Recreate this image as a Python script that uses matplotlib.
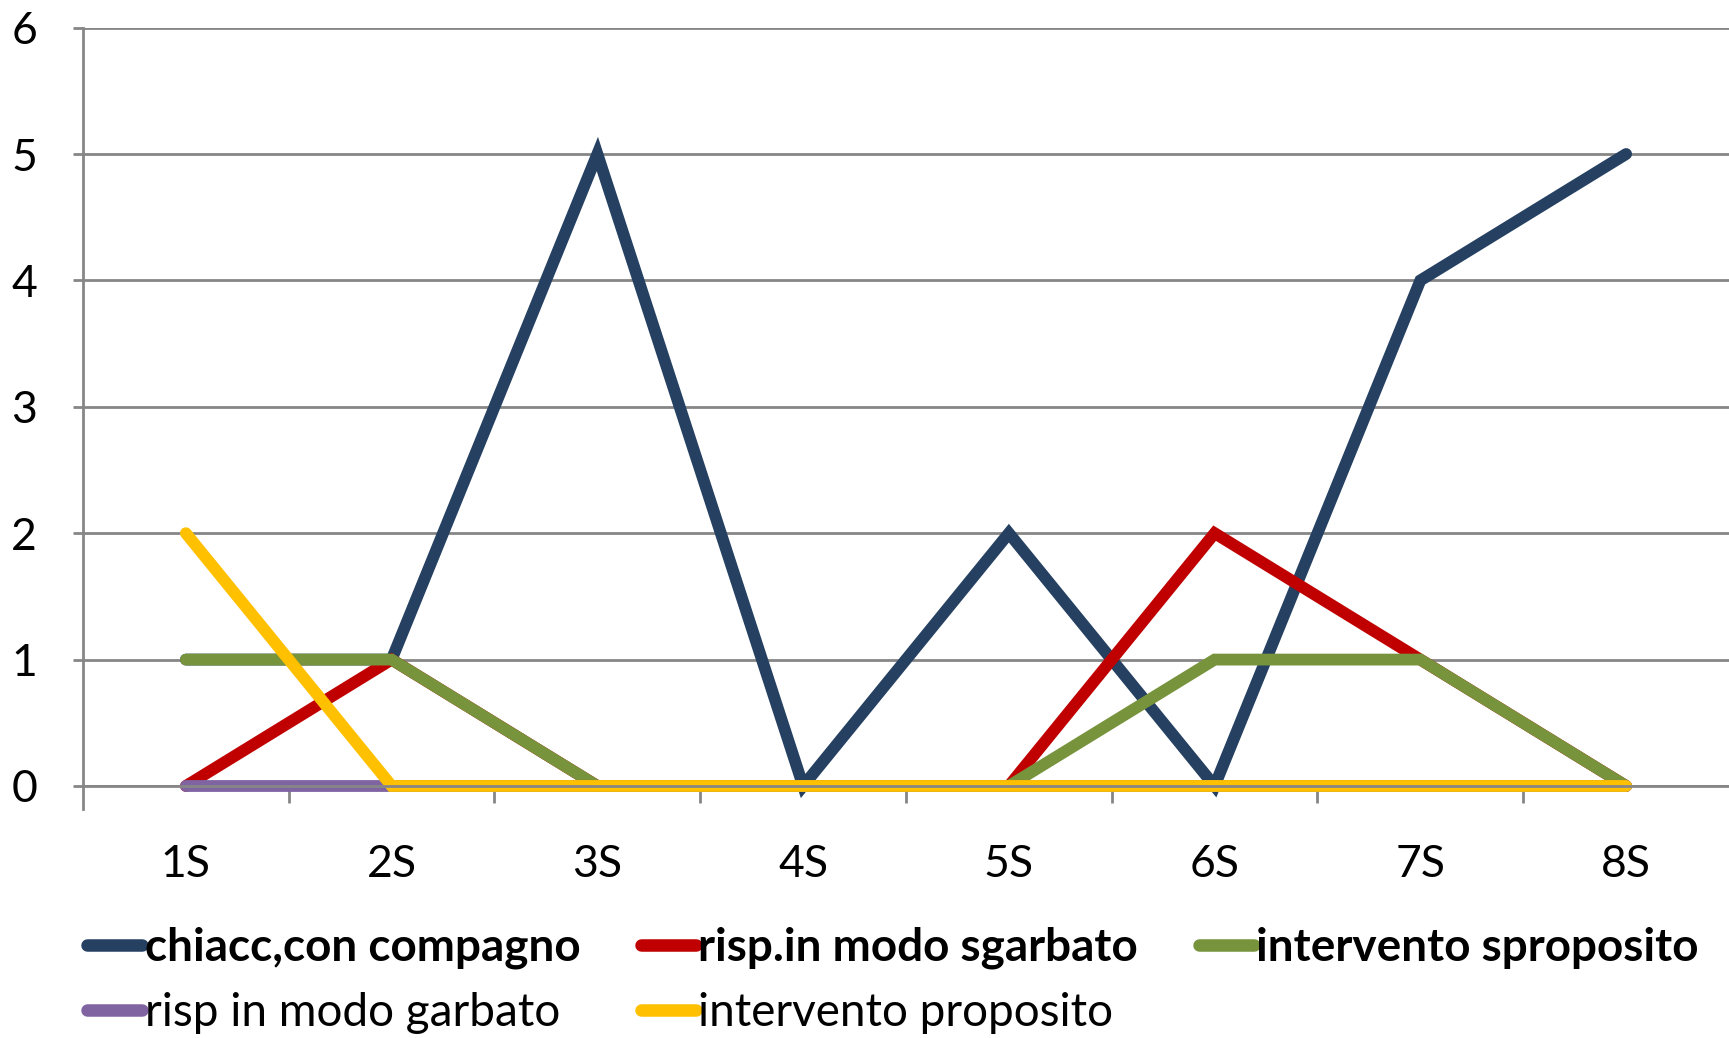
import numpy as np
import matplotlib.pyplot as plt
from matplotlib.lines import Line2D

plt.rcParams['font.family'] = ['Lato', 'DejaVu Sans']

categories = ['1S', '2S', '3S', '4S', '5S', '6S', '7S', '8S']
chiacc = [1, 1, 5, 0, 2, 0, 4, 5]
sgarbato = [0, 1, 0, 0, 0, 2, 1, 0]
sproposito = [1, 1, 0, 0, 0, 1, 1, 0]
garbato = [0, 0, 0, 0, 0, 0, 0, 0]
proposito = [2, 0, 0, 0, 0, 0, 0, 0]

names = ['chiacc,con compagno', 'risp.in modo sgarbato', 'intervento sproposito',
         'risp in modo garbato', 'intervento proposito']
colors = ['#254061', '#C00000', '#77933C', '#8064A2', '#FFC000']
series = [chiacc, sgarbato, sproposito, garbato, proposito]

fig = plt.figure(figsize=(17.29, 10.38), dpi=100)
ax = fig.add_axes([0.048, 0.2428, 0.952, 0.7306])

x = np.arange(1, len(categories) + 1)
for vals, c in zip(series, colors):
    ax.plot(x, vals, color=c, lw=8.5, solid_capstyle='round', solid_joinstyle='miter',
            clip_on=False)

grid = '#868686'
ax.set_xlim(0.5, len(categories) + 0.5)
ax.set_ylim(0, 6)
ax.set_yticks(range(7))
ax.yaxis.grid(True, color=grid, lw=2)
ax.set_axisbelow(True)
for s in ['top', 'right']:
    ax.spines[s].set_visible(False)
for s in ['left', 'bottom']:
    ax.spines[s].set_color(grid)
    ax.spines[s].set_linewidth(2)
ax.spines['left'].set_bounds(-0.18, 6)

ax.set_xticks(x)
ax.set_xticklabels(categories)
ax.set_xticks(np.arange(1.5, len(categories), 1.0), minor=True)
ax.tick_params(axis='x', which='major', length=0, pad=42, labelsize=32)
ax.tick_params(axis='x', which='minor', length=12, width=2, color=grid)
ax.tick_params(axis='y', length=7, width=2, color=grid, pad=26, labelsize=32)

# legend, row-major like the original
order = [0, 3, 1, 4, 2]
handles = [Line2D([], [], color=colors[i], lw=9, solid_capstyle='round') for i in order]
labels = [names[i] for i in order]
leg = fig.legend(handles, labels, ncol=3, loc='upper left', bbox_to_anchor=(0.0505, 0.107),
                 frameon=False, fontsize=33, handlelength=1.2, handletextpad=0.05,
                 columnspacing=1.33, labelspacing=0.49, borderaxespad=0, borderpad=0)
for t in leg.get_texts():
    if t.get_text() in names[:3]:
        t.set_fontweight('bold')

fig.savefig('out.png', dpi=100)
